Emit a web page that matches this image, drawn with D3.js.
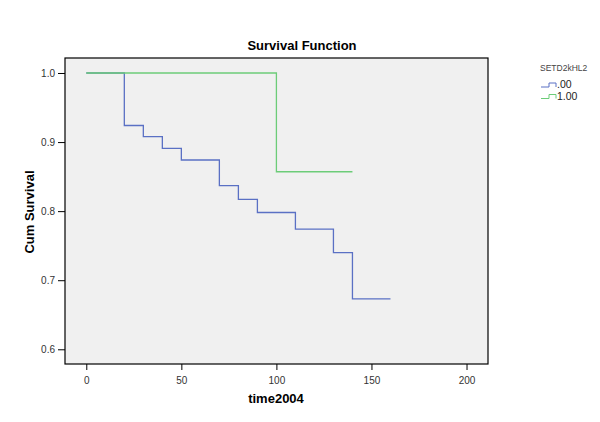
<!DOCTYPE html>
<html>
<head>
<meta charset="utf-8">
<script src="https://cdn.jsdelivr.net/npm/d3@7"></script>
<style>
  body { margin: 0; background: #fff; }
  text { font-family: Arial, "Liberation Sans", sans-serif; }
</style>
</head>
<body>
<script>
// survival step data
var groupNames = [".00", "1.00"];
var groupColors = ["#5a70c4", "#6ccc78"];

var timesA = [0, 20, 30, 40, 50, 70, 80, 90, 110, 130, 140, 160];
var survA  = [1.0, 0.924, 0.908, 0.891, 0.874, 0.837, 0.817, 0.798, 0.774, 0.740, 0.673, 0.673];

var timesB = [0, 100, 140];
var survB  = [1.0, 0.857, 0.857];

var xTicks = [0, 50, 100, 150, 200];
var yTicks = [0.6, 0.7, 0.8, 0.9, 1.0];

var W = 600, H = 422;
var plot = { left: 65, right: 488, top: 58, bottom: 364 };

var svg = d3.select("body").append("svg")
  .attr("width", W).attr("height", H);

var x = d3.scaleLinear().domain([-11.2, 211.3]).range([plot.left, plot.right]);
var y = d3.scaleLinear().domain([0.5787, 1.0217]).range([plot.bottom, plot.top]);

svg.append("rect")
  .attr("x", plot.left).attr("y", plot.top)
  .attr("width", plot.right - plot.left).attr("height", plot.bottom - plot.top)
  .attr("fill", "#f0f0f0").attr("stroke", "#000").attr("stroke-width", 1.2);

// axes
var xAxis = svg.append("g")
  .attr("transform", "translate(0," + plot.bottom + ")")
  .call(d3.axisBottom(x).tickValues(xTicks).tickFormat(d3.format("d")).tickSize(6).tickSizeOuter(0));
var yAxis = svg.append("g")
  .attr("transform", "translate(" + plot.left + ",0)")
  .call(d3.axisLeft(y).tickValues(yTicks).tickFormat(d3.format(".1f")).tickSize(7).tickSizeOuter(0));

[xAxis, yAxis].forEach(function(a) {
  a.select(".domain").remove();
  a.selectAll("line").attr("stroke", "#000");
  a.selectAll("text").attr("fill", "#333").style("font-size", "10px");
});
xAxis.selectAll("text").attr("dy", "1.1em");

// step lines
var line = d3.line()
  .x(function(d) { return x(d[0]); })
  .y(function(d) { return y(d[1]); })
  .curve(d3.curveStepAfter);

var series = [d3.zip(timesA, survA), d3.zip(timesB, survB)];

svg.selectAll("path.km")
  .data(series)
  .enter().append("path")
  .attr("class", "km")
  .attr("d", line)
  .attr("fill", "none")
  .attr("stroke", function(d, i) { return groupColors[i]; })
  .attr("stroke-width", 1.3);

// titles
svg.append("text")
  .attr("x", 302).attr("y", 50)
  .attr("text-anchor", "middle")
  .style("font-size", "13px").style("font-weight", "bold")
  .text("Survival Function");

svg.append("text")
  .attr("x", 276).attr("y", 403)
  .attr("text-anchor", "middle")
  .style("font-size", "13px").style("font-weight", "bold")
  .text("time2004");

svg.append("text")
  .attr("transform", "translate(34,212) rotate(-90)")
  .attr("text-anchor", "middle")
  .style("font-size", "13px").style("font-weight", "bold")
  .text("Cum Survival");

// legend
var legend = svg.append("g").attr("transform", "translate(540,71)");
legend.append("text")
  .attr("x", 0).attr("y", 0)
  .attr("fill", "#444")
  .style("font-size", "8.5px")
  .text("SETD2kHL2");

var item = legend.selectAll("g.item")
  .data(groupNames)
  .enter().append("g")
  .attr("class", "item")
  .attr("transform", function(d, i) { return "translate(0," + (16 + i * 11.5) + ")"; });

item.append("path")
  .attr("d", "M1,0 H9 V-4 H16 V0")
  .attr("fill", "none")
  .attr("stroke", function(d, i) { return groupColors[i]; })
  .attr("stroke-width", 1);

item.append("text")
  .attr("x", 17).attr("y", 1)
  .attr("fill", "#222")
  .style("font-size", "10.5px")
  .text(function(d) { return d; });
</script>
</body>
</html>
